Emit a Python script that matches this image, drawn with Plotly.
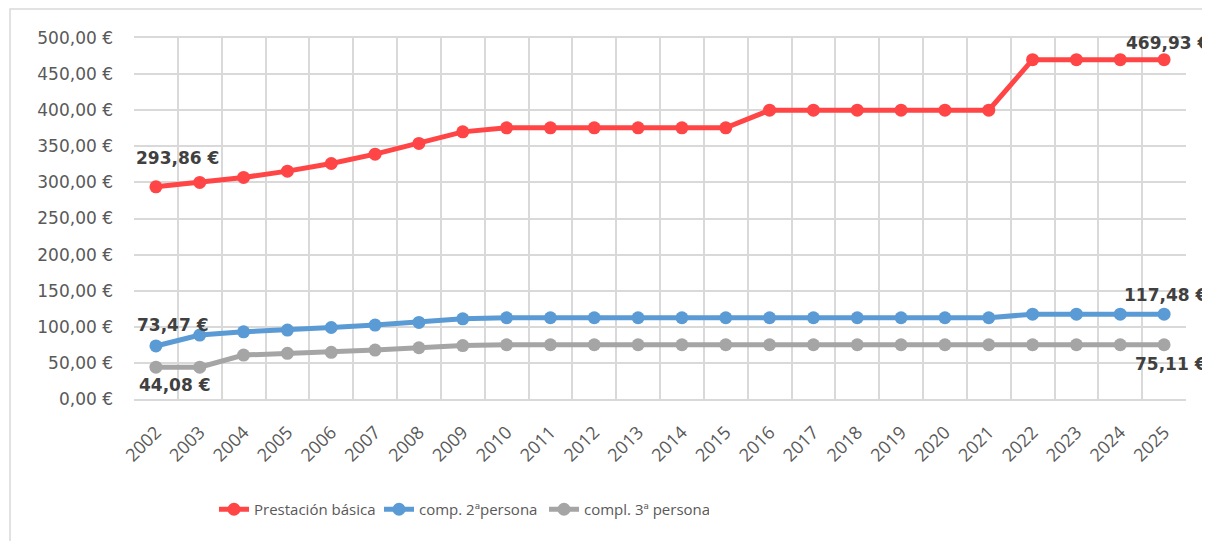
import plotly.graph_objects as go

years = [str(y) for y in range(2002, 2026)]
prestacion_basica = [293.86, 300.00, 306.90, 315.60, 326.20, 339.10, 354.00, 370.00,
                     375.55, 375.55, 375.55, 375.55, 375.55, 375.55,
                     400.00, 400.00, 400.00, 400.00, 400.00, 400.00,
                     469.93, 469.93, 469.93, 469.93]
comp_2a = [73.47, 88.60, 93.00, 95.50, 99.00, 102.40, 106.00, 111.00,
           112.50, 112.50, 112.50, 112.50, 112.50, 112.50,
           112.50, 112.50, 112.50, 112.50, 112.50, 112.50,
           117.48, 117.48, 117.48, 117.48]
comp_3a = [44.08, 44.08, 60.90, 63.20, 64.60, 67.80, 71.00, 74.00,
           75.11, 75.11, 75.11, 75.11, 75.11, 75.11,
           75.11, 75.11, 75.11, 75.11, 75.11, 75.11,
           75.11, 75.11, 75.11, 75.11]
series_names = ["Prestación básica", "comp. 2ªpersona", "compl. 3ª persona"]
series_colors = ["#FF4545", "#5B9BD5", "#A5A5A5"]
y_ticks = [0, 50, 100, 150, 200, 250, 300, 350, 400, 450, 500]
y_ticktext = ["0,00 €", "50,00 €", "100,00 €", "150,00 €", "200,00 €", "250,00 €",
              "300,00 €", "350,00 €", "400,00 €", "450,00 €", "500,00 €"]


def eur(v):
    return f"{v:.2f}".replace(".", ",") + " €"


fig = go.Figure()
for name, vals, col in zip(series_names, [prestacion_basica, comp_2a, comp_3a], series_colors):
    fig.add_trace(go.Scatter(
        x=years, y=vals, name=name, mode="lines+markers",
        line=dict(color=col, width=5),
        marker=dict(color=col, size=13),
        cliponaxis=False,
    ))

lab_font = dict(family="DejaVu Sans", size=17, color="#404040", weight="bold")
# data labels: (series, index, xshift, yshift)
n = len(years)
label_specs = [
    (prestacion_basica, 0, 22, 29),
    (comp_2a, 0, 17, 21),
    (comp_3a, 0, 19, -18),
    (prestacion_basica, n - 1, 3, 17),
    (comp_2a, n - 1, 1, 19),
    (comp_3a, n - 1, 7, -19),
]
for vals, idx, xs, ys in label_specs:
    fig.add_annotation(x=idx, y=vals[idx], text=eur(vals[idx]), showarrow=False,
                       xshift=xs, yshift=ys, font=lab_font, xanchor="center", yanchor="middle")

# outer chart box (page has an 8px body margin)
fig.add_shape(type="rect", xref="paper", yref="paper",
              x0=(2 - 126) / 1052, x1=(1230 - 126) / 1052,
              y0=-(560 - 391) / 361, y1=1 + (30 - 1) / 361,
              line=dict(color="#D9D9D9", width=1.5), layer="below")

fig.update_layout(
    width=1202, height=533,
    margin=dict(l=126, r=24, t=30, b=142),
    paper_bgcolor="white", plot_bgcolor="white",
    showlegend=True,
    legend=dict(orientation="h", x=(206 - 126) / 1052, xanchor="left", y=-(485 - 391) / 361,
                yanchor="top", entrywidth=120, entrywidthmode="pixels",
                font=dict(family="Open Sans", size=15, color="#595959"),
                itemwidth=30, tracegroupgap=0),
    xaxis=dict(type="category", range=[-0.5, n - 0.5], tickson="boundaries", showgrid=True,
               gridcolor="#D9D9D9", gridwidth=1.5, showline=True, linecolor="#D9D9D9",
               linewidth=1.5, mirror=True, ticks="", tickangle=-45, ticklabelstandoff=14,
               tickfont=dict(family="Open Sans", size=18, color="#595959")),
    yaxis=dict(range=[0, 500], tickvals=y_ticks, ticktext=y_ticktext, showgrid=True,
               gridcolor="#D9D9D9", gridwidth=1.5, zeroline=False, showline=False,
               ticks="", ticklabelstandoff=20,
               tickfont=dict(family="DejaVu Sans", size=17, color="#595959")),
)

fig.write_html("out.html")
